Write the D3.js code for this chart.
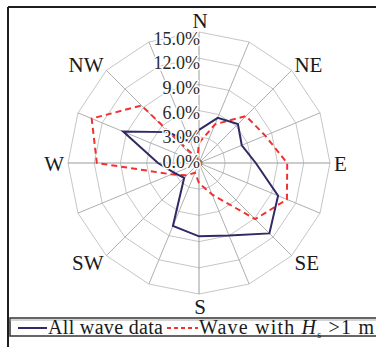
<html>
  <head>
    <meta charset="utf-8">
    <script src="https://d3js.org/d3.v7.min.js"></script>
    <style>
      body { margin: 0px; background: #fff; }
      text { font-family: "Liberation Serif", "Times New Roman", serif; fill: #1a1a1a; }
      .tick-label { font-size: 18px; fill: #2a2a2a; paint-order: stroke; stroke: #fff; stroke-width: 3px; stroke-linejoin: round; }
      .dir-label { font-size: 21px; }
      .legend text { font-size: 20px; }
    </style>
  </head>
  <body>
    <svg width="376" height="347"></svg>
    <script>
      // 16 compass sectors, clockwise from north
      var directions = ['N', 'NNE', 'NE', 'ENE', 'E', 'ESE', 'SE', 'SSE',
                        'S', 'SSW', 'SW', 'WSW', 'W', 'WNW', 'NW', 'NNW'];
      var shownDirections = ['N', 'NE', 'E', 'SE', 'S', 'SW', 'W', 'NW'];
      // frequency (%)
      var allWave = [3.8, 5.6, 6.3, 5.3, 6.5, 9.8, 11.4, 9.0,
                     8.4, 7.8, 2.4, 3.0, 4.7, 9.4, 5.0, 2.6];
      var hsOver1 = [2.3, 4.8, 7.6, 8.2, 10.1, 10.9, 9.1, 3.9,
                     2.3, 1.2, 2.0, 3.4, 11.7, 13.3, 9.3, 0.5];
      var tickValues = [0, 3, 6, 9, 12, 15];
      var seriesNames = ['All wave data', 'Wave with '];

      var svg = d3.select('svg');
      var cx = 199, cy = 163;

      var r = d3.scaleLinear().domain([0, 15]).range([0, 131]);
      var angle = d3.scaleLinear().domain([0, directions.length]).range([0, 2 * Math.PI]);

      function pt(i, v) {
        var a = angle(i);
        return [cx + r(v) * Math.sin(a), cy - r(v) * Math.cos(a)];
      }

      // frame
      svg.append('line').attr('x1', 8).attr('y1', 7).attr('x2', 376).attr('y2', 7)
        .attr('stroke', '#1e1e1e').attr('stroke-width', 2);
      svg.append('line').attr('x1', 8).attr('y1', 7).attr('x2', 8).attr('y2', 347)
        .attr('stroke', '#1e1e1e').attr('stroke-width', 2);

      var g = svg.append('g');

      // rings (16-gons)
      var ring = d3.lineRadial()
        .angle(function (d, i) { return angle(i); })
        .radius(function (d) { return r(d); })
        .curve(d3.curveLinearClosed);

      g.selectAll('.ring').data(tickValues.slice(1)).enter().append('path')
        .attr('class', 'ring')
        .attr('transform', 'translate(' + cx + ',' + cy + ')')
        .attr('d', function (v) { return ring(directions.map(function () { return v; })); })
        .attr('fill', 'none')
        .attr('stroke', '#c6c6c6')
        .attr('stroke-width', 1);

      // spokes
      g.selectAll('.spoke').data(directions).enter().append('line')
        .attr('class', 'spoke')
        .attr('x1', cx).attr('y1', cy)
        .attr('x2', function (d, i) { return pt(i, 15)[0]; })
        .attr('y2', function (d, i) { return pt(i, 15)[1]; })
        .attr('stroke', function (d, i) { return i % 4 === 0 ? '#9a9a9a' : '#b0b0b0'; })
        .attr('stroke-width', 1);

      // series
      var line = d3.lineRadial()
        .angle(function (d, i) { return angle(i); })
        .radius(function (d) { return r(d); })
        .curve(d3.curveLinearClosed);

      g.append('path')
        .attr('transform', 'translate(' + cx + ',' + cy + ')')
        .attr('d', line(hsOver1))
        .attr('fill', 'none')
        .attr('stroke', '#f23030')
        .attr('stroke-width', 2)
        .attr('stroke-dasharray', '6,4');

      g.append('path')
        .attr('transform', 'translate(' + cx + ',' + cy + ')')
        .attr('d', line(allWave))
        .attr('fill', 'none')
        .attr('stroke', '#2f2a63')
        .attr('stroke-width', 2);

      // center dot
      g.append('circle').attr('cx', cx).attr('cy', cy).attr('r', 3.5).attr('fill', '#777');
      g.append('circle').attr('cx', cx).attr('cy', cy).attr('r', 2).attr('fill', '#111');

      // radial tick labels
      g.selectAll('.tick-label').data(tickValues).enter().append('text')
        .attr('class', 'tick-label')
        .attr('x', cx + 1)
        .attr('y', function (v) { return cy - r(v) * 0.94 + 5; })
        .attr('text-anchor', 'end')
        .text(function (v) { return v.toFixed(1) + '%'; });

      // direction labels
      g.selectAll('.dir-label').data(shownDirections).enter().append('text')
        .attr('class', 'dir-label')
        .each(function (d) {
          var i = directions.indexOf(d);
          var a = angle(i), s = Math.sin(a), c = Math.cos(a);
          var p = pt(i, 15);
          var anchor = Math.abs(s) < 0.1 ? 'middle' : (s > 0 ? 'start' : 'end');
          var sgn = c > 0.1 ? 1 : (c < -0.1 ? -1 : 0);
          d3.select(this)
            .attr('x', p[0] + (anchor === 'middle' ? 1 : s * 4))
            .attr('y', p[1] + 8 - 12 * sgn * c * c)
            .attr('text-anchor', anchor)
            .text(d);
        });

      // legend
      var lg = svg.append('g').attr('class', 'legend');
      lg.append('rect')
        .attr('x', 10).attr('y', 318).attr('width', 380).attr('height', 18)
        .attr('fill', 'none').attr('stroke', '#333').attr('stroke-width', 1.5);
      lg.append('line').attr('x1', 10).attr('x2', 376).attr('y1', 320).attr('y2', 320)
        .attr('stroke', '#aaa').attr('stroke-width', 1);

      lg.append('line').attr('x1', 18).attr('x2', 47).attr('y1', 328).attr('y2', 328)
        .attr('stroke', '#2f2a63').attr('stroke-width', 2);
      lg.append('text').attr('x', 48).attr('y', 334)
        .attr('textLength', 115).attr('lengthAdjust', 'spacing')
        .text(seriesNames[0]);

      lg.append('line').attr('x1', 167).attr('x2', 198).attr('y1', 328).attr('y2', 328)
        .attr('stroke', '#f23030').attr('stroke-width', 2).attr('stroke-dasharray', '4,3');
      var t2 = lg.append('text').attr('x', 199).attr('y', 334)
        .attr('textLength', 175).attr('lengthAdjust', 'spacing');
      t2.append('tspan').text(seriesNames[1]);
      t2.append('tspan').attr('font-style', 'italic').text('H');
      t2.append('tspan').style('font-size', '10px').attr('dy', 4).text('s');
      t2.append('tspan').attr('dy', -4).text(' >1 m');
    </script>
  </body>
</html>
